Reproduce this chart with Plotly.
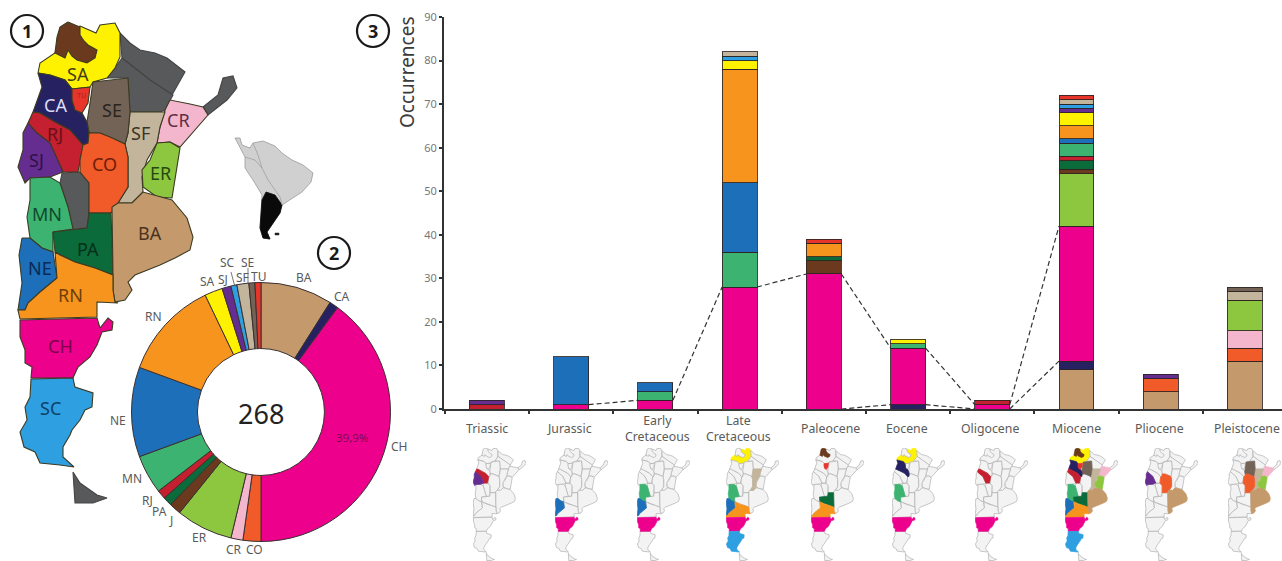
import plotly.graph_objects as go

W, H = 1282, 561
FONT = "Noto Sans"
TXT = "#5a5a5a"

# ---------- data: occurrences by period ----------
periods = ["Triassic", "Jurassic", "Early Cretaceous", "Late Cretaceous", "Paleocene",
           "Eocene", "Oligocene", "Miocene", "Pliocene", "Pleistocene"]
period_labels = ["Triassic", "Jurassic", "Early<br>Cretaceous", "Late<br>Cretaceous", "Paleocene",
                 "Eocene", "Oligocene", "Miocene", "Pliocene", "Pleistocene"]
region_codes = ["BA", "CA", "CH", "CO", "CR", "ER", "J", "PA", "RJ", "MN", "NE", "RN", "SA", "SJ", "SC", "SF", "SE", "TU"]

BA_counts = [0, 0, 0, 0, 0, 0, 0, 9, 4, 11]
CA_counts = [0, 0, 0, 0, 0, 1, 0, 2, 0, 0]
CH_counts = [0, 1, 2, 28, 31, 13, 1, 31, 0, 0]
CO_counts = [0, 0, 0, 0, 0, 0, 0, 0, 3, 3]
CR_counts = [0, 0, 0, 0, 0, 0, 0, 0, 0, 4]
ER_counts = [0, 0, 0, 0, 0, 0, 0, 12, 0, 7]
J_counts = [0, 0, 0, 0, 3, 0, 0, 1, 0, 0]
PA_counts = [0, 0, 0, 0, 1, 0, 0, 2, 0, 0]
RJ_counts = [1, 0, 0, 0, 0, 0, 1, 1, 0, 0]
MN_counts = [0, 0, 2, 8, 0, 1, 0, 3, 0, 0]
NE_counts = [0, 11, 2, 16, 0, 0, 0, 1, 0, 0]
RN_counts = [0, 0, 0, 26, 3, 0, 0, 3, 0, 0]
SA_counts = [0, 0, 0, 2, 0, 1, 0, 3, 0, 0]
SJ_counts = [1, 0, 0, 0, 0, 0, 0, 1, 1, 0]
SC_counts = [0, 0, 0, 1, 0, 0, 0, 1, 0, 0]
SF_counts = [0, 0, 0, 1, 0, 0, 0, 1, 0, 2]
SE_counts = [0, 0, 0, 0, 0, 0, 0, 0, 0, 1]
TU_counts = [0, 0, 0, 0, 1, 0, 0, 1, 0, 0]

# donut totals, clockwise from the top
donut_values = [24, 3, 107, 6, 4, 19, 4, 3, 3, 13, 30, 33, 6, 3, 2, 4, 2, 2]
donut_total = "268"

# ---------- regions highlighted on each small map ----------
mini_regions = [
    ["RJ", "SJ"],
    ["NE", "CH"],
    ["MN", "NE", "CH"],
    ["SA", "SF", "MN", "NE", "RN", "CH", "SC"],
    ["J", "TU", "PA", "RN", "CH"],
    ["SA", "CA", "MN", "CH"],
    ["RJ", "CH"],
    ["SA", "J", "TU", "CA", "RJ", "SE", "CR", "SF", "ER", "BA", "MN", "NE", "RN", "PA", "CH", "SC"],
    ["SJ", "CO", "BA"],
    ["SE", "CR", "SF", "ER", "CO", "BA"],
]

# ---------- map outlines (sketch of the provinces) ----------
SA_shape = [(80,26),(96,33),(100,25),(115,23),(120,33),(120,57),(115,68),(107,78),(93,82),(90,87),(72,89),(65,80),(50,75),(38,73),(40,63),(55,53),(60,40)]
J_shape = [(68,22),(80,27),(80,35),(84,41),(88,45),(97,50),(95,58),(87,63),(77,60),(72,56),(68,50),(65,58),(55,53),(57,37),(60,27)]
FO_shape = [(120,33),(130,43),(140,50),(155,53),(167,58),(185,72),(172,95),(150,80),(122,58)]
CC_shape = [(122,58),(150,80),(173,95),(165,110),(160,112),(130,112),(128,78),(107,78),(115,68)]
MI_shape = [(203,107),(218,95),(223,78),(233,76),(237,88),(227,100),(208,115)]
CR_shape = [(165,110),(170,100),(190,104),(203,107),(208,115),(197,128),(180,147),(170,142),(157,143),(160,127)]
SF_shape = [(130,112),(165,112),(160,127),(157,143),(147,160),(142,177),(143,192),(132,203),(118,203),(128,187),(128,157),(125,144),(128,133)]
ER_shape = [(157,143),(170,142),(180,148),(177,167),(172,198),(157,197),(143,187),(142,170),(150,160)]
SE_shape = [(93,82),(128,78),(130,112),(128,133),(125,144),(110,137),(100,133),(89,133),(87,122),(90,103)]
TU_shape = [(72,89),(90,87),(88,103),(82,113),(75,110),(72,100)]
CA_shape = [(38,73),(50,75),(65,80),(72,89),(72,100),(75,110),(82,113),(87,122),(89,133),(88,143),(83,145),(70,130),(55,122),(40,113),(33,112),(38,97),(42,87)]
RJ_shape = [(33,112),(40,113),(55,122),(70,130),(83,145),(80,160),(78,172),(63,172),(50,143),(37,133),(28,123)]
SJ_shape = [(28,123),(37,133),(50,143),(63,172),(50,177),(30,178),(25,183),(18,167),(23,150),(23,133)]
CO_shape = [(89,133),(100,133),(110,137),(125,144),(128,157),(128,187),(118,203),(111,213),(89,213),(89,183),(80,172),(80,160),(83,145),(88,143)]
SL_shape = [(62,173),(80,172),(89,183),(89,213),(87,228),(73,229),(68,207),(60,183)]
MN_shape = [(30,178),(50,177),(60,183),(68,207),(73,229),(53,232),(53,252),(42,248),(30,238),(27,217),(30,200)]
PA_shape = [(53,232),(87,228),(89,213),(111,213),(113,275),(95,268),(75,262),(60,255),(55,252)]
BA_shape = [(112,207),(118,203),(132,203),(143,192),(172,200),(187,218),(193,237),(190,250),(175,258),(160,265),(135,275),(128,282),(132,290),(125,300),(115,302),(113,290),(113,275)]
NE_shape = [(22,238),(30,238),(42,248),(53,252),(57,278),(40,292),(28,303),(25,310),(18,310),(22,283),(19,255)]
RN_shape = [(55,252),(60,255),(75,262),(95,268),(113,275),(113,290),(115,302),(118,303),(97,302),(97,317),(20,319),(18,310),(25,310),(28,303),(40,292),(57,278)]
CH_shape = [(20,320),(97,318),(100,328),(108,318),(113,322),(112,330),(102,332),(97,345),(90,357),(78,367),(73,378),(31,378),(32,367),(25,363),(25,350),(20,337)]
SC_shape = [(31,379),(73,378),(75,387),(93,393),(92,407),(85,410),(80,420),(72,430),(70,435),(63,447),(63,457),(74,467),(60,465),(40,463),(35,452),(24,447),(20,432),(27,420),(25,407),(30,397)]
TF_shape = [(73,472),(80,483),(97,495),(107,498),(93,503),(75,503)]

continent_shape = [(235,138),(240,138),(242,145),(250,148),(253,143),(263,141),(275,146),(282,153),(292,160),(303,165),(313,173),(311,182),(302,192),(293,198),(282,205),(280,213),(275,220),(270,227),(267,232),(270,239),(263,238),(260,228),(261,212),(262,195),(253,180),(245,168),(245,157),(240,148)]
argentina_shape = [(266,192),(275,195),(280,202),(282,205),(280,213),(275,220),(270,227),(267,232),(270,239),(263,238),(260,228),(261,212),(262,200)]
borders_a = [(253,143),(258,155),(262,168),(268,180),(280,197),(282,205)]
borders_b = [(245,157),(255,160),(262,168)]
falkland = [(275,233),(279,233),(279,235),(275,235)]

region_shapes = [("FO", FO_shape), ("CC", CC_shape), ("MI", MI_shape), ("SL", SL_shape), ("TF", TF_shape),
                 ("SA", SA_shape), ("J", J_shape), ("CR", CR_shape), ("SF", SF_shape), ("ER", ER_shape),
                 ("SE", SE_shape), ("CA", CA_shape), ("TU", TU_shape), ("RJ", RJ_shape), ("SJ", SJ_shape),
                 ("CO", CO_shape), ("MN", MN_shape), ("PA", PA_shape), ("BA", BA_shape), ("NE", NE_shape),
                 ("RN", RN_shape), ("CH", CH_shape), ("SC", SC_shape)]

# ---------- styles ----------
colors = {"BA": "#C49A6C", "CA": "#262262", "CH": "#EC008C", "CO": "#F15A29", "CR": "#F4B6CC",
          "ER": "#8DC63F", "J": "#6B3A1E", "PA": "#0B6B3A", "RJ": "#C4202F", "MN": "#3CB371",
          "NE": "#1C6FB8", "RN": "#F7941D", "SA": "#FFF200", "SJ": "#662D91", "SC": "#2E9FE0",
          "SF": "#C2B59B", "SE": "#736357", "TU": "#E8352B"}
GRAY = "#58595B"
counts = {"BA": BA_counts, "CA": CA_counts, "CH": CH_counts, "CO": CO_counts, "CR": CR_counts, "ER": ER_counts,
          "J": J_counts, "PA": PA_counts, "RJ": RJ_counts, "MN": MN_counts, "NE": NE_counts, "RN": RN_counts,
          "SA": SA_counts, "SJ": SJ_counts, "SC": SC_counts, "SF": SF_counts, "SE": SE_counts, "TU": TU_counts}

map_labels = [("SA", 78, 74, "#3f3f1a", 18), ("CA", 55, 105, "#dcdcf5", 18), ("TU", 81, 95, "#a81e1e", 7),
              ("SE", 112, 110, "#2b241c", 18), ("SF", 140, 133, "#3a3428", 18), ("CR", 178, 120, "#5e2f45", 18),
              ("RJ", 55, 134, "#6a1018", 18), ("SJ", 36, 160, "#2f1048", 18), ("CO", 104, 164, "#6e1e08", 18),
              ("ER", 160, 173, "#1f4a10", 18), ("MN", 47, 214, "#0f4a2a", 18), ("PA", 88, 249, "#04301a", 18),
              ("BA", 150, 233, "#4a331c", 18), ("NE", 40, 268, "#0a2a55", 18), ("RN", 70, 295, "#6b3f08", 18),
              ("CH", 60, 346, "#7a0048", 18), ("SC", 50, 408, "#0e4166", 18)]
donut_labels = [("BA", 304, 277), ("CA", 342, 296), ("CH", 399, 446), ("CO", 254, 549), ("CR", 234, 549),
                ("ER", 199, 537), ("J", 171, 520), ("PA", 159, 511), ("RJ", 147, 500), ("MN", 132, 478),
                ("NE", 118, 420), ("RN", 153, 316), ("SA", 207, 281), ("SJ", 223, 279), ("SC", 227, 262),
                ("SE", 247, 262), ("SF", 242, 277), ("TU", 258, 276)]
badges = [("1", 27, 31), ("2", 334, 253), ("3", 373, 31)]
mini_left = [473, 555, 637, 726, 811, 892, 975, 1065, 1145, 1228]
label_centers = [487, 569, 657, 738, 830, 907, 990, 1076, 1159, 1247]

fig = go.Figure()

# ---------- stacked bars ----------
x_pos = list(range(len(periods)))
BAR_W = 0.415
for code in region_codes:
    fig.add_trace(go.Bar(x=x_pos, y=[v if v else None for v in counts[code]], width=BAR_W, name=code,
                         marker=dict(color=colors[code], line=dict(color="rgba(45,35,35,0.85)", width=1)),
                         showlegend=False, hoverinfo="x+y+name", xaxis="x", yaxis="y"))


def cumulative_top(code):
    idx = region_codes.index(code)
    return [sum(counts[c][i] for c in region_codes[:idx + 1]) if counts[code][i] else 0 for i in x_pos]


def connector(code, first, last):
    tops = cumulative_top(code)
    gx, gy = [], []
    for i in range(first, last):
        gx += [i + BAR_W / 2, i + 1 - BAR_W / 2, None]
        gy += [tops[i], tops[i + 1], None]
    return gx, gy


for code, a, b in [("CH", 1, 7), ("CA", 4, 7)]:
    gx, gy = connector(code, a, b)
    fig.add_trace(go.Scatter(x=gx, y=gy, mode="lines", line=dict(color="#333333", width=1.2, dash="5px,3px"),
                             showlegend=False, hoverinfo="skip", cliponaxis=False, xaxis="x", yaxis="y"))

# ---------- donut ----------
cx, cy, r = 261, 412, 129.5
fig.add_trace(go.Pie(labels=region_codes, values=donut_values, sort=False, direction="clockwise", rotation=0,
                     hole=0.49, textinfo="none", showlegend=False,
                     marker=dict(colors=[colors[c] for c in region_codes], line=dict(color="#3a3030", width=1)),
                     domain=dict(x=[(cx - r) / W, (cx + r) / W], y=[1 - (cy + r) / H, 1 - (cy - r) / H])))


# ---------- large map + inset on a full-figure pixel layer ----------
def poly(shape, fill, line, width, xa, ya):
    xs = [p[0] for p in shape] + [shape[0][0]]
    ys = [p[1] for p in shape] + [shape[0][1]]
    return go.Scatter(x=xs, y=ys, mode="lines", fill="toself", fillcolor=fill,
                      line=dict(color=line, width=width), showlegend=False, hoverinfo="skip", xaxis=xa, yaxis=ya)


for code, shape in region_shapes:
    fig.add_trace(poly(shape, colors.get(code, GRAY), "#3b3a22" if code in colors else "#444444", 1.1, "x2", "y2"))
fig.add_trace(poly(continent_shape, "#d0d0d0", "#9a9a9a", 0.8, "x2", "y2"))
fig.add_trace(poly(argentina_shape, "#0a0a0a", "#0a0a0a", 0.8, "x2", "y2"))
fig.add_trace(poly(falkland, "#222222", "#222222", 0.5, "x2", "y2"))
for b in (borders_a, borders_b):
    fig.add_trace(go.Scatter(x=[p[0] for p in b], y=[p[1] for p in b], mode="lines",
                             line=dict(color="#9a9a9a", width=0.7), showlegend=False, hoverinfo="skip",
                             xaxis="x2", yaxis="y2"))
# leader lines of the two raised donut labels
for seg in ([(231, 272), (235, 287)], [(248, 268), (248, 287)]):
    fig.add_trace(go.Scatter(x=[p[0] for p in seg], y=[p[1] for p in seg], mode="lines",
                             line=dict(color="#555555", width=0.8), showlegend=False, hoverinfo="skip",
                             xaxis="x2", yaxis="y2"))

# ---------- small maps ----------
layout_axes = {}
for i, chosen in enumerate(mini_regions):
    n = i + 3
    # SA wraps around J, so it is always painted first
    if "SA" in chosen:
        fig.add_trace(poly(SA_shape, colors["SA"], colors["SA"], 0.7, f"x{n}", f"y{n}"))
    for code, shape in region_shapes:
        if code not in chosen:
            fig.add_trace(poly(shape, "#f3f3f3", "#b0b0b0", 0.7, f"x{n}", f"y{n}"))
    for code, shape in region_shapes:
        if code in chosen and code != "SA":
            fig.add_trace(poly(shape, colors[code], colors[code], 0.7, f"x{n}", f"y{n}"))
    layout_axes[f"xaxis{n}"] = dict(domain=[mini_left[i] / W, min(1, (mini_left[i] + 53) / W)], range=[18, 237],
                                    visible=False, anchor=f"y{n}", fixedrange=True, automargin=False)
    layout_axes[f"yaxis{n}"] = dict(domain=[1 - 561 / H, 1 - 448 / H], range=[505, 22], visible=False,
                                    anchor=f"x{n}", fixedrange=True, automargin=False)

# ---------- text ----------
ann = []
for code, x, y, col, size in map_labels:
    ann.append(dict(x=x, y=y, xref="x2", yref="y2", text=code, showarrow=False,
                    font=dict(family=FONT, size=size, color=col)))
for code, x, y in donut_labels:
    ann.append(dict(x=x, y=y, xref="x2", yref="y2", text=code, showarrow=False,
                    font=dict(family=FONT, size=12, color=TXT)))
ann.append(dict(x=352, y=437, xref="x2", yref="y2", text="39,9%", showarrow=False,
                font=dict(family=FONT, size=11.5, color="#7d0a55")))
ann.append(dict(x=cx, y=cy + 1, xref="x2", yref="y2", text=donut_total, showarrow=False,
                font=dict(family=FONT, size=27, color="#222222")))
ann.append(dict(x=407, y=72, xref="x2", yref="y2", text="Occurrences", textangle=-90, showarrow=False,
                font=dict(family=FONT, size=19, color="#3a3a3a")))
for lab, xc in zip(period_labels, label_centers):
    ann.append(dict(x=xc, y=428, xref="x2", yref="y2", text=lab, showarrow=False, yanchor="middle",
                    font=dict(family=FONT, size=12.3, color=TXT)))
shapes = []
for num, x, y in badges:
    shapes.append(dict(type="circle", xref="x2", yref="y2", x0=x - 16, x1=x + 16, y0=y - 16, y1=y + 16,
                       line=dict(color="#1a1a1a", width=2.2), fillcolor="white"))
    ann.append(dict(x=x, y=y, xref="x2", yref="y2", text=f"<b>{num}</b>", showarrow=False,
                    font=dict(family=FONT, size=18, color="#1a1a1a")))

fig.update_layout(
    template="none",
    width=W, height=H, margin=dict(l=0, r=0, t=0, b=0, pad=0, autoexpand=False), paper_bgcolor="white",
    plot_bgcolor="rgba(0,0,0,0)",
    barmode="stack", showlegend=False, font=dict(family=FONT, color=TXT), annotations=ann, shapes=shapes,
    xaxis=dict(domain=[444 / W, 1], range=[-0.51, 9.44], showticklabels=False, ticks="", showgrid=False, zeroline=False,
               showline=True, linecolor="#333333", linewidth=2, anchor="y", fixedrange=True, automargin=False,
               minor=dict(tickmode="array", tickvals=[i + 0.5 for i in range(-1, 9)], ticks="outside", ticklen=3,
                          tickcolor="#333333", tickwidth=2, showgrid=False)),
    yaxis=dict(domain=[1 - 409 / H, 1 - 17 / H], range=[0, 90], tickmode="array", tickvals=list(range(0, 100, 10)),
               ticks="outside", ticklen=3, tickwidth=2, tickcolor="#333333", showgrid=False, zeroline=False,
               showline=True, linecolor="#333333", linewidth=2, anchor="x", tickfont=dict(family=FONT, size=11, color="#777777"),
               fixedrange=True, automargin=False),
    xaxis2=dict(domain=[0, 1], range=[0, W], visible=False, anchor="y2", fixedrange=True, automargin=False),
    yaxis2=dict(domain=[0, 1], range=[H, 0], visible=False, anchor="x2", fixedrange=True, automargin=False),
    **layout_axes,
)
fig.write_html("out.html", config={"displayModeBar": False}, post_script="document.body.style.margin='0';")
